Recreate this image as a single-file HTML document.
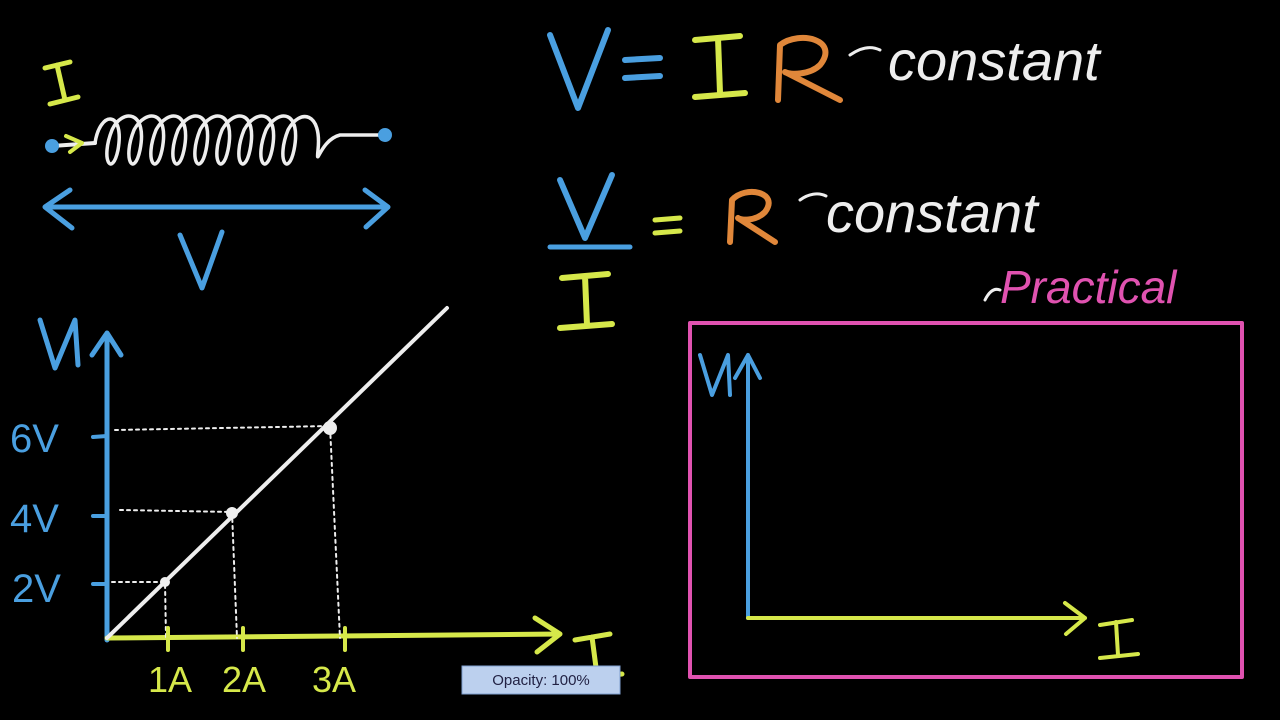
<!DOCTYPE html>
<html><head><style>html,body{margin:0;padding:0;background:#000;width:1280px;height:720px;overflow:hidden}</style></head>
<body>
<svg width="1280" height="720" viewBox="0 0 1280 720" xmlns="http://www.w3.org/2000/svg" font-family="Liberation Sans, sans-serif">
<rect width="1280" height="720" fill="#000"/>
<g fill="none" stroke-linecap="round" stroke-linejoin="round">
<!-- spring -->
<line x1="52" y1="146" x2="95" y2="143" stroke="#eee" stroke-width="4"/>
<path d="M95 143 C100 110,125 110,118 150 C112 178,100 160,112 130 C122 108,148 110,140 150 C134 178,122 160,134 130 C146 108,170 110,162 150 C156 178,144 160,156 130 C168 108,192 110,184 150 C178 178,166 160,178 130 C190 108,214 110,206 150 C200 178,188 160,200 130 C212 108,236 110,228 150 C222 178,210 160,222 130 C234 108,258 110,250 150 C244 178,232 160,244 130 C256 108,280 110,272 150 C266 178,254 160,266 130 C278 108,302 110,294 150 C288 178,276 160,288 130 C300 108,322 112,318 150 C316 170,320 140,340 135 L385 135" stroke="#eee" stroke-width="3.5"/>
<path d="M66 136 L82 143 L70 152" stroke="#d6e84a" stroke-width="4"/>
<path d="M45 68 L70 62 M57 65 L65 100 M50 104 L78 97" stroke="#d6e84a" stroke-width="5"/>
<path d="M45 207 L388 207 M70 190 L45 207 L72 228 M365 190 L388 207 L366 227" stroke="#4a9fe0" stroke-width="5"/>
<path d="M180 235 L202 288 L222 232" stroke="#4a9fe0" stroke-width="5"/>
<!-- graph -->
<path d="M107 640 L107 333 M92 355 L107 333 L121 355" stroke="#4a9fe0" stroke-width="5"/>
<path d="M40 320 L55 368 L75 320 L78 365" stroke="#4a9fe0" stroke-width="5"/>
<path d="M107 638 L560 634 M535 618 L560 634 L537 652" stroke="#d6e84a" stroke-width="5"/>
<path d="M575 640 L610 634 M592 637 L597 675 M580 678 L622 674" stroke="#d6e84a" stroke-width="5"/>
<line x1="107" y1="638" x2="447" y2="308" stroke="#eee" stroke-width="4"/>
<g stroke="#eee" stroke-width="2" stroke-dasharray="3 4">
<path d="M112 582 L165 582 L166 638 M120 510 L232 512 L237 638 M115 430 L330 426 L340 638"/>
</g>
<path d="M93 437 L107 436 M93 516 L107 516 M93 584 L107 584" stroke="#4a9fe0" stroke-width="4"/>
<path d="M168 628 L168 650 M243 628 L243 650 M345 628 L345 650" stroke="#d6e84a" stroke-width="4"/>
<!-- right box -->
<rect x="690" y="323" width="552" height="354" stroke="#e052b0" stroke-width="4"/>
<path d="M748 618 L748 355 M735 378 L748 355 L760 378" stroke="#4a9fe0" stroke-width="4"/>
<path d="M700 355 L712 395 L728 355 L730 395" stroke="#4a9fe0" stroke-width="4"/>
<path d="M748 618 L1085 618 M1065 603 L1085 618 L1066 634" stroke="#d6e84a" stroke-width="4"/>
<path d="M1100 625 L1132 620 M1116 622 L1118 655 M1100 658 L1138 654" stroke="#d6e84a" stroke-width="4"/>
<!-- equations -->
<path d="M550 35 L578 108 L608 30" stroke="#4a9fe0" stroke-width="6"/>
<path d="M625 60 L660 58 M625 78 L660 76" stroke="#4a9fe0" stroke-width="6"/>
<path d="M695 40 L740 36 M718 38 L720 93 M695 97 L745 93" stroke="#d6e84a" stroke-width="6"/>
<path d="M778 100 L780 45 C800 30,840 40,820 65 C810 75,790 75,785 72 L840 100" stroke="#e0873a" stroke-width="6"/>
<path d="M560 180 L585 238 L612 175" stroke="#4a9fe0" stroke-width="6"/>
<line x1="550" y1="247" x2="630" y2="247" stroke="#4a9fe0" stroke-width="5"/>
<path d="M562 278 L608 274 M585 276 L587 325 M560 328 L612 324" stroke="#d6e84a" stroke-width="6"/>
<path d="M655 220 L680 218 M655 233 L680 231" stroke="#d6e84a" stroke-width="5"/>
<path d="M730 242 L732 200 C745 185,780 192,765 212 C755 222,740 220,738 218 L775 242" stroke="#e0873a" stroke-width="6"/>
<path d="M850 55 C860 48,870 45,880 50 M800 200 C808 194,818 192,826 196 M985 300 C990 290,995 288,1000 290" stroke="#eee" stroke-width="3"/>
</g>
<text x="888" y="80" font-size="56" fill="#eee" font-style="italic">constant</text>
<text x="826" y="232" font-size="56" fill="#eee" font-style="italic">constant</text>
<text x="1000" y="303" font-size="46" fill="#e052b0" font-style="italic">Practical</text>
<g font-size="40" fill="#4a9fe0"><text x="10" y="452">6V</text><text x="10" y="532">4V</text><text x="12" y="602">2V</text></g>
<g font-size="36" fill="#d6e84a"><text x="148" y="692">1A</text><text x="222" y="692">2A</text><text x="312" y="692">3A</text></g>
<rect x="462" y="666" width="158" height="28" fill="#bcd0ee" stroke="#7f9fd0"/>
<text x="541" y="685" font-size="15" fill="#224" text-anchor="middle">Opacity: 100%</text>
<circle cx="52" cy="146" r="7" fill="#4a9fe0"/><circle cx="385" cy="135" r="7" fill="#4a9fe0"/>
<circle cx="165" cy="582" r="5" fill="#eee"/><circle cx="232" cy="513" r="6" fill="#eee"/><circle cx="330" cy="428" r="7" fill="#eee"/>
</svg>
</body></html>
